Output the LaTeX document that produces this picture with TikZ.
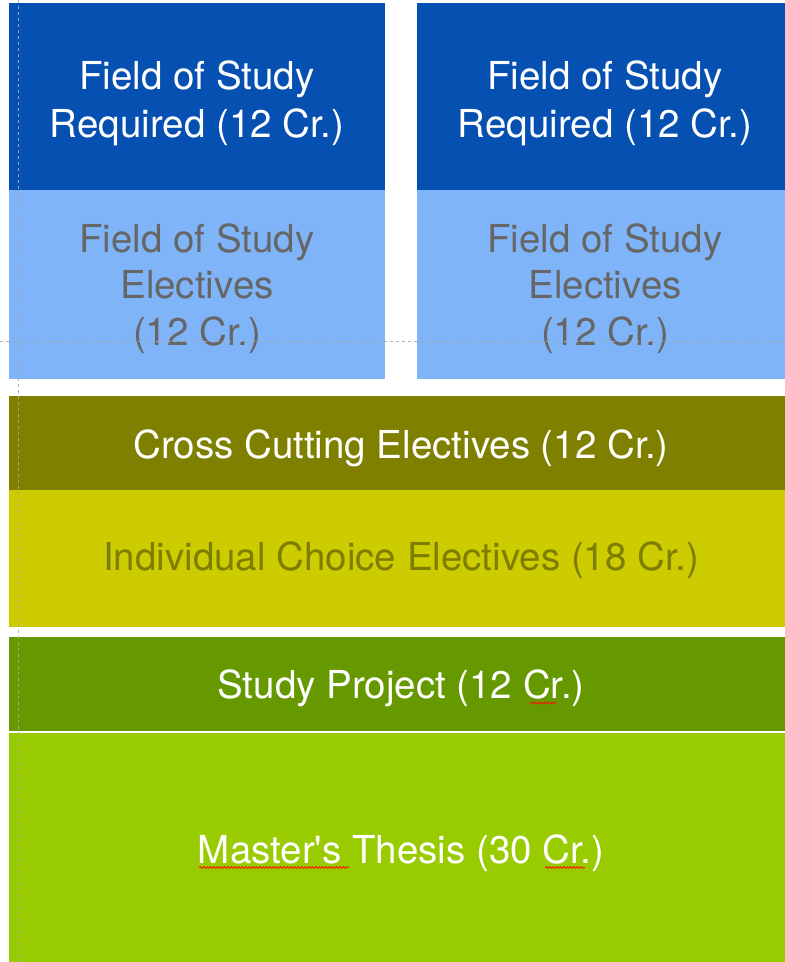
\documentclass[tikz,border=0pt]{standalone}
\usepackage{fontspec}
\setmainfont{TeX Gyre Heros}[Ligatures=TeXOff]
\usetikzlibrary{decorations.pathmorphing}
\definecolor{dblue}{HTML}{0650B2}
\definecolor{lblue}{HTML}{80B4F8}
\definecolor{olivebox}{HTML}{7F7F00}
\definecolor{yellowbox}{HTML}{CCCC00}
\definecolor{dgreen}{HTML}{669900}
\definecolor{lgreen}{HTML}{99CC00}
\definecolor{graytext}{HTML}{666666}
\definecolor{olivetext}{HTML}{7D7D00}
\definecolor{guide}{HTML}{AAAAAA}
\tikzset{
  box/.style={rectangle, draw=none, inner sep=0pt, outer sep=0pt},
  lbl/.style={anchor=base, inner sep=0pt, font=\fontsize{38.5}{46}\selectfont},
  guideline/.style={guide, line width=1pt, dash pattern=on 3pt off 3pt, opacity=0.9},
  spell/.style={red!85!orange, line width=0.8pt, decorate, decoration={snake, amplitude=0.9pt, segment length=3.5pt}}
}
\begin{document}
\begin{tikzpicture}[x=1pt, y=-1pt]
\useasboundingbox (0,0) rectangle (785,962);
\clip (0,0) rectangle (785,962);
\fill[white] (0,0) rectangle (785,962);
% boxes
\node[box, fill=dblue, minimum width=376pt, minimum height=187pt] (dbL) at (197,96.5) {};
\node[box, fill=lblue, minimum width=376pt, minimum height=189pt] (lbL) at (197,284.5) {};
\node[box, fill=dblue, minimum width=376pt, minimum height=187pt] (dbR) at (605,96.5) {};
\node[box, fill=lblue, minimum width=376pt, minimum height=189pt] (lbR) at (605,284.5) {};
\node[box, fill=olivebox, minimum width=784pt, minimum height=94pt] (cross) at (401,443) {};
\node[box, fill=yellowbox, minimum width=784pt, minimum height=137pt] (indiv) at (401,558.5) {};
\node[box, fill=dgreen, minimum width=784pt, minimum height=94pt] (proj) at (401,684) {};
\node[box, fill=lgreen, minimum width=784pt, minimum height=230pt] (thesis) at (401,847.5) {};
% texts
\node[lbl, white] (t1a) at (197,89) {Field of Study};
\node[lbl, white] (t1b) at (197,137) {Required (12 Cr.)};
\node[lbl, white] (t2a) at (605,89) {Field of Study};
\node[lbl, white] (t2b) at (605,137) {Required (12 Cr.)};
\node[lbl, graytext] (t3a) at (197,252) {Field of Study};
\node[lbl, graytext] (t3b) at (197,298.5) {Electives};
\node[lbl, graytext] (t3c) at (197,345) {(12 Cr.)};
\node[lbl, graytext] (t4a) at (605,252) {Field of Study};
\node[lbl, graytext] (t4b) at (605,298.5) {Electives};
\node[lbl, graytext] (t4c) at (605,345) {(12 Cr.)};
\node[lbl, white] (t5) at (401,458) {Cross Cutting Electives (12 Cr.)};
\node[lbl, olivetext] (t6) at (401,570) {Individual Choice Electives (18 Cr.)};
\node[lbl, white] (t7) at (401,698) {Study Project (12 Cr.)};
\node[lbl, white] (t8) at (401,863) {Master's Thesis (30 Cr.)};
% spell-check underlines
\coordinate (s1a) at (199,867.5); \coordinate (s1b) at (349,867.5);
\coordinate (s2a) at (545,867.5); \coordinate (s2b) at (585,867.5);
\coordinate (s3a) at (530,703); \coordinate (s3b) at (557,703);
\draw[spell] (s1a) -- (s1b);
\draw[spell] (s2a) -- (s2b);
\draw[spell] (s3a) -- (s3b);
% guide lines
\coordinate (gv1) at (18,0); \coordinate (gv2) at (18,962);
\coordinate (gh1) at (0,341); \coordinate (gh2) at (785,341);
\draw[guideline] (gv1) -- (gv2);
\draw[guideline] (gh1) -- (gh2);
\end{tikzpicture}
\end{document}
